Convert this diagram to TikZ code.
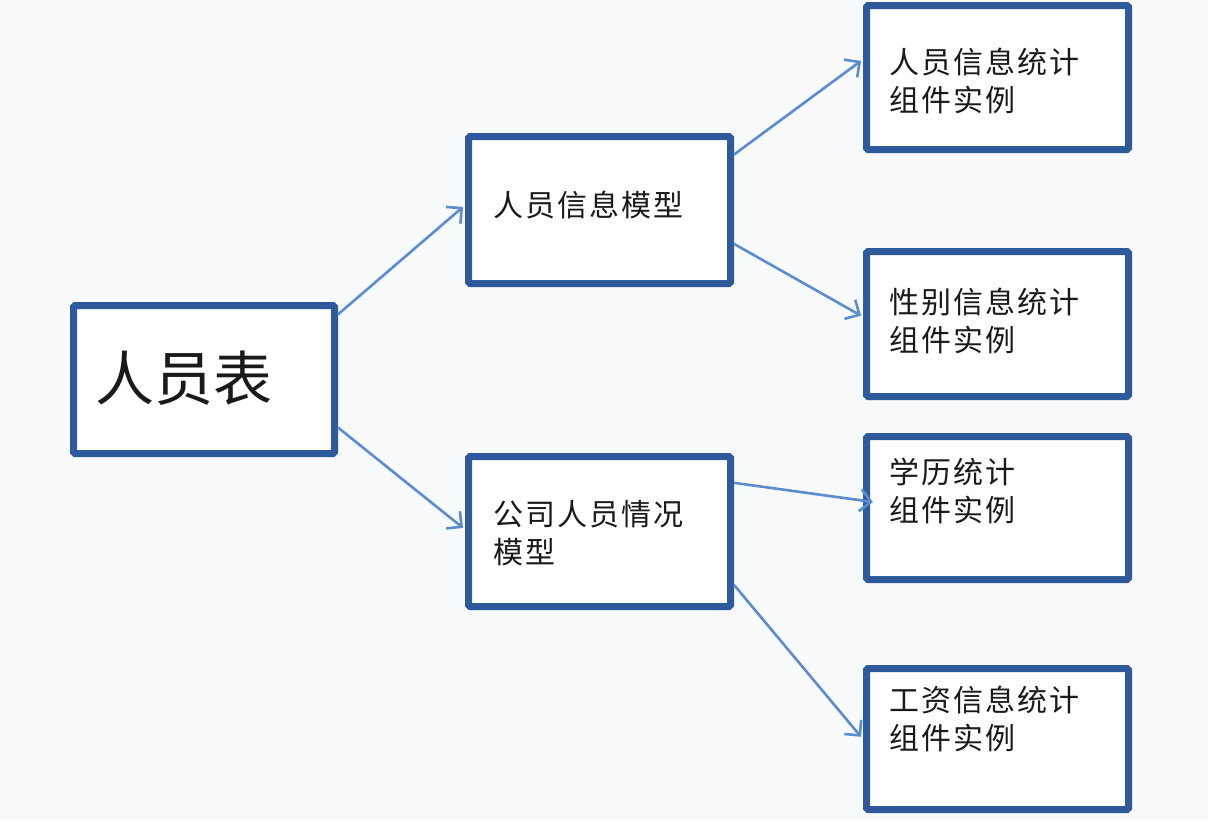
\documentclass[tikz,border=0pt]{standalone}
\usepackage{fontspec}
\newfontfamily\cjk{Noto Sans CJK SC}
\newfontfamily\cjksp[LetterSpace=7]{Noto Sans CJK SC}
\usetikzlibrary{arrows.meta,calc}
\definecolor{boxblue}{HTML}{2E5A9C}
\definecolor{arrowblue}{HTML}{5B8CD2}
\definecolor{bgc}{HTML}{F9FAFC}
\definecolor{txt}{HTML}{1A1A1A}
\begin{document}
\begin{tikzpicture}[x=1pt,y=-1pt,
  box/.style={draw=boxblue, line width=7pt, fill=white, minimum width=262pt, inner sep=0pt, rounded corners=1.5pt},
  lbl/.style={font=\cjksp\fontsize{30}{38}\selectfont, align=left, anchor=west, inner sep=0pt, text=txt},
  conn/.style={draw=arrowblue, line width=2.6pt, -{Straight Barb[length=11pt,width=22pt,line width=2.6pt]}}]
\fill[bgc] (0,0) rectangle (1208,820);
\useasboundingbox (0,0) rectangle (1208,820);
% boxes
\node[box, minimum width=261pt, minimum height=148pt] (t) at (204,379.5) {};
\node[box, minimum height=147pt] (m1) at (599.5,210) {};
\node[box, minimum height=150pt] (m2) at (599.5,531.5) {};
\node[box, minimum height=144pt] (r1) at (997.5,77.5) {};
\node[box, minimum height=145pt] (r2) at (997.5,324) {};
\node[box, minimum height=143pt] (r3) at (997.5,508) {};
\node[box, minimum height=141pt] (r4) at (997.5,739) {};
% labels
\node[lbl, font=\cjk\fontsize{59}{62}\selectfont] (tl) at (95,378) {人员表};
\node[lbl] (m1l) at (493,205) {人员信息模型};
\node[lbl] (m2l) at (493,533) {公司人员情况\\模型};
\node[lbl] (r1l) at (889,81) {人员信息统计\\组件实例};
\node[lbl] (r2l) at (889,321) {性别信息统计\\组件实例};
\node[lbl] (r3l) at (889,491) {学历统计\\组件实例};
\node[lbl] (r4l) at (889,719) {工资信息统计\\组件实例};
% connectors
\draw[conn] ($(t.north east)!0.08!(t.south east)$) -- ($(m1.north west)!0.48!(m1.south west)+(-2,0)$);
\draw[conn] ($(t.north east)!0.81!(t.south east)$) -- ($(m2.north west)!0.477!(m2.south west)+(-2,0)$);
\draw[conn] ($(m1.north east)!0.14!(m1.south east)$) -- ($(r1.north west)!0.39!(r1.south west)+(-2,0)$);
\draw[conn] ($(m1.north east)!0.72!(m1.south east)$) -- ($(r2.north west)!0.445!(r2.south west)+(-2,0)$);
\draw[conn] ($(m2.north east)!0.19!(m2.south east)$) -- ($(r3.north west)!0.46!(r3.south west)+(10,0)$);
\draw[conn] ($(m2.north east)!0.84!(m2.south east)$) -- ($(r4.north west)!0.485!(r4.south west)+(-2,0)$);
\end{tikzpicture}
\end{document}
